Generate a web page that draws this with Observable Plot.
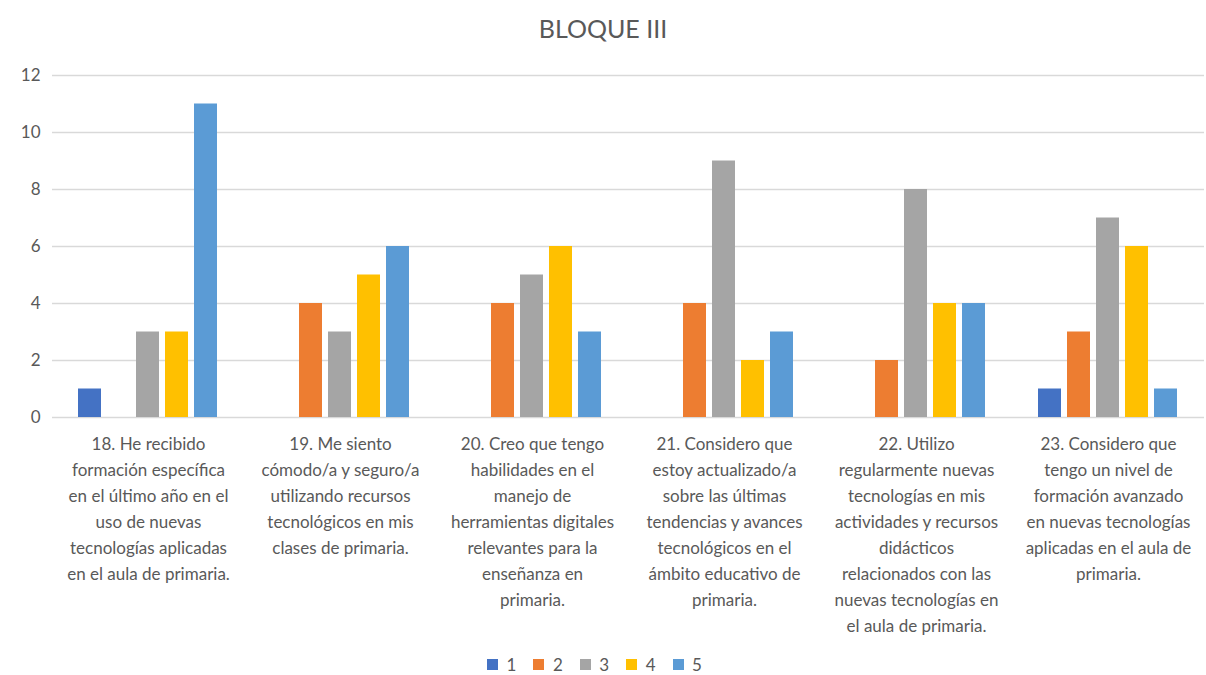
<!DOCTYPE html>
<html>
<head>
<meta charset="utf-8">
<script src="https://cdn.jsdelivr.net/npm/d3@7"></script>
<script src="https://cdn.jsdelivr.net/npm/@observablehq/plot@0.6"></script>
<style>
  body { margin: 0; background: #fff; font-family: Lato, "Open Sans", sans-serif; }
  #wrap { width: 1206px; height: 675px; position: relative; }
  #title { height: 55px; line-height: 56px; text-align: center; font-size: 25px; color: #595959; }
  #legend { position: absolute; top: 654px; left: 0; width: 1206px; height: 20px; display: flex; justify-content: center; align-items: center; }
  #legend > div { margin: 0 !important; min-height: 0 !important; height: 20px !important; }
</style>
</head>
<body>
<div id="wrap">
  <div id="title">BLOQUE III</div>
  <div id="chart"></div>
  <div id="legend"></div>
</div>
<script>
const questions = [
  "18. He recibido\nformación específica\nen el último año en el\nuso de nuevas\ntecnologías aplicadas\nen el aula de primaria.",
  "19. Me siento\ncómodo/a y seguro/a\nutilizando recursos\ntecnológicos en mis\nclases de primaria.",
  "20. Creo que tengo\nhabilidades en el\nmanejo de\nherramientas digitales\nrelevantes para la\nenseñanza en\nprimaria.",
  "21. Considero que\nestoy actualizado/a\nsobre las últimas\ntendencias y avances\ntecnológicos en el\námbito educativo de\nprimaria.",
  "22. Utilizo\nregularmente nuevas\ntecnologías en mis\nactividades y recursos\ndidácticos\nrelacionados con las\nnuevas tecnologías en\nel aula de primaria.",
  "23. Considero que\ntengo un nivel de\nformación avanzado\nen nuevas tecnologías\naplicadas en el aula de\nprimaria."
];
const seriesNames = ["1", "2", "3", "4", "5"];
const seriesColors = ["#4472C4", "#ED7D31", "#A5A5A5", "#FFC000", "#5B9BD5"];
const s1 = [1, 0, 0, 0, 0, 1];
const s2 = [0, 4, 4, 4, 2, 3];
const s3 = [3, 3, 5, 9, 8, 7];
const s4 = [3, 5, 6, 2, 4, 6];
const s5 = [11, 6, 3, 3, 4, 1];
const yTicks = [0, 2, 4, 6, 8, 10, 12];

const allSeries = [s1, s2, s3, s4, s5];
const data = [];
questions.forEach((q, i) => {
  allSeries.forEach((s, j) => {
    data.push({q, serie: seriesNames[j], value: s[i]});
  });
});

const chart = Plot.plot({
  width: 1206,
  height: 595,
  marginTop: 20,
  marginBottom: 233,
  marginLeft: 52,
  marginRight: 2,
  style: {fontFamily: "Lato, 'Open Sans', sans-serif", color: "#595959", background: "#fff"},
  fx: {domain: questions, padding: 0, axis: null, label: null},
  x: {domain: seriesNames, paddingInner: 0.2, paddingOuter: 0.91, axis: null},
  y: {domain: [0, 12], axis: null},
  color: {domain: seriesNames, range: seriesColors},
  marks: [
    Plot.gridY(yTicks, {stroke: "#D9D9D9", strokeOpacity: 1, strokeWidth: 1.5}),
    Plot.axisY(yTicks, {tickSize: 0, tickPadding: 12, fontSize: 17, fill: "#595959", label: null}),
    Plot.barY(data.filter(d => d.value > 0), {fx: "q", x: "serie", y: "value", fill: "serie"}),
    Plot.axisFx({anchor: "bottom", tickSize: 0, tickPadding: 14, fontSize: 17, lineHeight: 1.53, fill: "#595959", label: null, textOverflow: null, lineWidth: Infinity})
  ]
});
document.getElementById("chart").appendChild(chart);

const legend = Plot.legend({
  color: {domain: seriesNames, range: seriesColors, type: "ordinal"},
  swatchSize: 11,
  style: {fontFamily: "Lato, 'Open Sans', sans-serif", fontSize: "17px", color: "#595959"}
});
document.getElementById("legend").appendChild(legend);
</script>
</body>
</html>
